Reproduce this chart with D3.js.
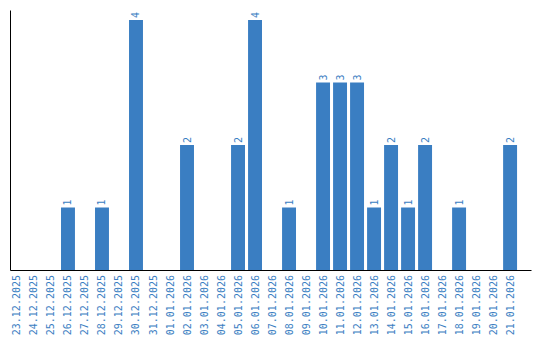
<!DOCTYPE html>
<html>
<head>
<meta charset="utf-8">
<script src="https://cdn.jsdelivr.net/npm/d3@7"></script>
<style>
body { margin: 0; background: #fff; }
svg text { font-family: "DejaVu Sans Mono", monospace; }
</style>
</head>
<body>
<svg width="540" height="340"></svg>
<script>
let days = ["23.12.2025","24.12.2025","25.12.2025","26.12.2025","27.12.2025","28.12.2025","29.12.2025","30.12.2025","31.12.2025",
  "01.01.2026","02.01.2026","03.01.2026","04.01.2026","05.01.2026","06.01.2026","07.01.2026","08.01.2026","09.01.2026",
  "10.01.2026","11.01.2026","12.01.2026","13.01.2026","14.01.2026","15.01.2026","16.01.2026","17.01.2026","18.01.2026",
  "19.01.2026","20.01.2026","21.01.2026"]
let counts = [0,0,0,1,0,1,0,4,0, 0,2,0,0,2,4,0,1,0, 3,3,3,1,2,1,2,0,1, 0,0,2]
let blue = "#3a7ec2"

let data = days.map((d, i) => ({day: d, count: counts[i]}))

let svg = d3.select("svg")

let x = d3.scaleBand().domain(days).range([10, 531]).paddingInner(0.18).paddingOuter(0.41).align(0)
let y = d3.scaleLinear().domain([0, 4.16]).range([270, 10])

// bars
svg.append("g").selectAll("rect")
  .data(data.filter(d => d.count > 0))
  .join("rect")
  .attr("x", d => x(d.day))
  .attr("y", d => y(d.count))
  .attr("width", x.bandwidth())
  .attr("height", d => y(0) - y(d.count))
  .attr("fill", blue)

// value labels, rotated
svg.append("g").selectAll("text")
  .data(data.filter(d => d.count > 0))
  .join("text")
  .attr("transform", d => "translate(" + (x(d.day) + x.bandwidth() / 2 + 3.5) + "," + (y(d.count) - 2) + ") rotate(-90)")
  .attr("text-anchor", "start")
  .attr("font-size", "10px")
  .attr("fill", blue)
  .text(d => d.count)

// x axis
let xAxis = svg.append("g")
  .attr("transform", "translate(0,270)")
  .call(d3.axisBottom(x).tickSize(0).tickPadding(0))
xAxis.select(".domain").attr("stroke", "#000")
xAxis.selectAll("text")
  .attr("font-size", "10px")
  .attr("fill", blue)
  .attr("text-anchor", "end")
  .attr("dy", null)
  .attr("y", 0)
  .attr("transform", "translate(3.5,5) rotate(-90)")

// y axis
let yAxis = svg.append("g")
  .attr("transform", "translate(10,0)")
  .call(d3.axisLeft(y).ticks(0).tickSizeOuter(0))
yAxis.select(".domain").attr("stroke", "#000")
</script>
</body>
</html>
